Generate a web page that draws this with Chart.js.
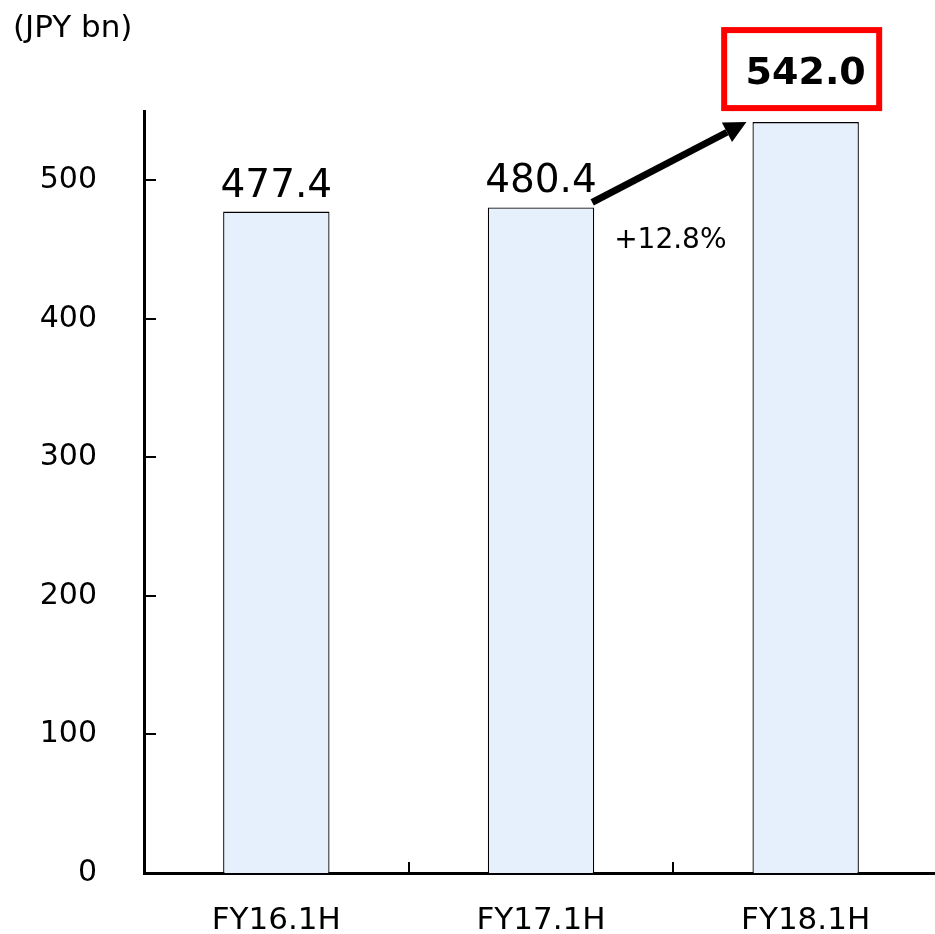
<!DOCTYPE html>
<html>
<head>
<meta charset="utf-8">
<title>Revenue FY16.1H - FY18.1H</title>
<script src="https://cdn.jsdelivr.net/npm/chart.js@4.4.1/dist/chart.umd.min.js"></script>
<style>
  html, body { margin: 0; padding: 0; background: #fff; overflow: hidden; }
  #wrap { width: 938px; height: 934px; }
</style>
</head>
<body>
<div id="wrap"><canvas id="chart" width="938" height="934"></canvas></div>
<script>
const categories = ["FY16.1H", "FY17.1H", "FY18.1H"];
const revenue = [477.4, 480.4, 542.0];
const yTicks = [0, 100, 200, 300, 400, 500];
const yMax = 550;
const unitLabel = "(JPY bn)";
const growthLabel = "+12.8%";

const FONT = "'DejaVu Sans', Verdana, sans-serif";

// inner tick marks, value labels, highlight box and growth arrow
const annotations = {
  id: "annotations",
  afterDatasetsDraw(chart) {
    const ctx = chart.ctx;
    const area = chart.chartArea;
    const xScale = chart.scales.x;
    const yScale = chart.scales.y;
    const bars = chart.getDatasetMeta(0).data;

    ctx.save();
    ctx.strokeStyle = "#000";
    ctx.lineWidth = 2;
    yTicks.forEach((v) => {
      if (v === 0) return;
      const y = Math.round(yScale.getPixelForValue(v));
      ctx.beginPath();
      ctx.moveTo(area.left, y);
      ctx.lineTo(area.left + 12, y);
      ctx.stroke();
    });
    for (let i = 1; i < categories.length; i++) {
      const x = Math.round((xScale.getPixelForValue(i - 1) + xScale.getPixelForValue(i)) / 2);
      ctx.beginPath();
      ctx.moveTo(x, area.bottom);
      ctx.lineTo(x, area.bottom - 11);
      ctx.stroke();
    }

    // value labels
    ctx.fillStyle = "#000";
    ctx.textAlign = "center";
    ctx.textBaseline = "alphabetic";
    const last = bars.length - 1;
    bars.forEach((bar, i) => {
      if (i === last) return;
      ctx.font = "39px " + FONT;
      ctx.fillText(revenue[i].toFixed(1), bar.x, bar.y - 15);
    });

    // highlighted latest value
    const b = bars[last];
    const boxW = 155, boxH = 78;
    const boxX = b.x - 4 - boxW / 2;
    const boxY = b.y - 14 - boxH;
    ctx.strokeStyle = "#FF0000";
    ctx.lineWidth = 6;
    ctx.strokeRect(boxX, boxY, boxW, boxH);
    ctx.font = "bold 38px " + FONT;
    ctx.fillText(revenue[last].toFixed(1), b.x, boxY + 54);

    // growth arrow
    const prev = bars[last - 1];
    const x0 = prev.x + prev.width / 2 - 2, y0 = prev.y - 5;
    const x1 = b.x - b.width / 2 - 6, y1 = b.y;
    const ang = Math.atan2(y1 - y0, x1 - x0);
    const head = 22, hw = 11;
    const bx = x1 - head * Math.cos(ang), by = y1 - head * Math.sin(ang);
    ctx.strokeStyle = "#000";
    ctx.lineWidth = 7;
    ctx.beginPath();
    ctx.moveTo(x0, y0);
    ctx.lineTo(bx, by);
    ctx.stroke();
    ctx.beginPath();
    ctx.moveTo(x1, y1);
    ctx.lineTo(bx + hw * Math.sin(ang), by - hw * Math.cos(ang));
    ctx.lineTo(bx - hw * Math.sin(ang), by + hw * Math.cos(ang));
    ctx.closePath();
    ctx.fill();

    ctx.font = "28px " + FONT;
    ctx.textBaseline = "middle";
    const gx = (xScale.getPixelForValue(last - 1) + xScale.getPixelForValue(last)) / 2;
    ctx.fillText(growthLabel, gx - 3, prev.y + 33);

    // unit label
    ctx.textAlign = "left";
    ctx.font = "31px " + FONT;
    ctx.fillText(unitLabel, 13, 29);
    ctx.restore();
  },
};

new Chart(document.getElementById("chart"), {
  type: "bar",
  data: {
    labels: categories,
    datasets: [
      {
        data: revenue,
        backgroundColor: "#E5F0FC",
        borderColor: "#000",
        borderWidth: 1.3,
        barPercentage: 0.402,
        categoryPercentage: 1,
      },
    ],
  },
  options: {
    responsive: false,
    animation: false,
    layout: { padding: { top: 111, left: 0, right: 0, bottom: 0 } },
    plugins: {
      legend: { display: false },
      tooltip: { enabled: false },
    },
    scales: {
      x: {
        grid: { display: false },
        border: { color: "#000", width: 3 },
        ticks: {
          color: "#000",
          padding: 21,
          font: { family: FONT, size: 31 },
        },
        afterFit: (scale) => {
          scale.height = 61;
        },
      },
      y: {
        min: 0,
        max: yMax,
        grid: { display: false },
        border: { color: "#000", width: 3 },
        afterBuildTicks: (scale) => {
          scale.ticks = yTicks.map((v) => ({ value: v }));
        },
        ticks: {
          color: "#000",
          padding: 39,
          font: { family: FONT, size: 30 },
        },
        afterFit: (scale) => {
          scale.width = 144;
        },
      },
    },
  },
  plugins: [annotations],
});
</script>
</body>
</html>
